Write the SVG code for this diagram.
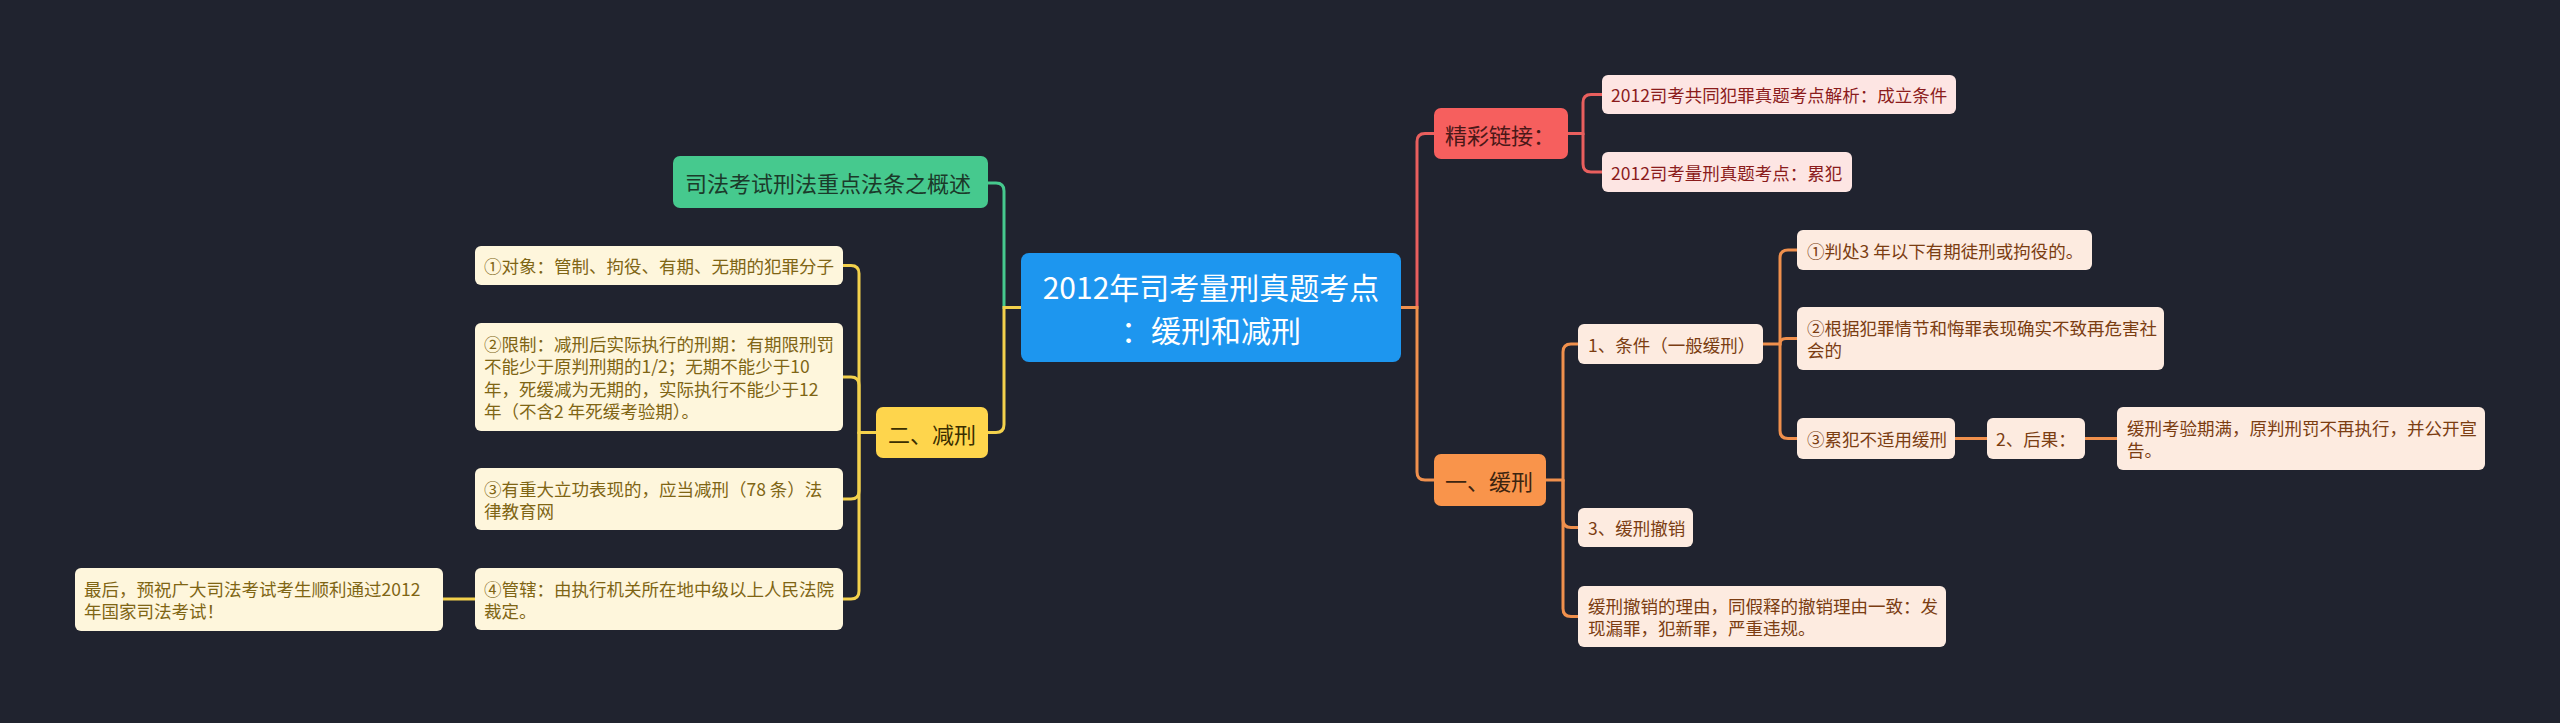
<svg xmlns="http://www.w3.org/2000/svg" width="2560" height="723" viewBox="0 0 2560 723">
<style>
text { font-family: "Noto Sans CJK SC", "Noto Sans", sans-serif; dominant-baseline: central; }
.c0 { font-size: 30px; fill: #ffffff; text-anchor: middle; }
.l1 { font-size: 22px; }
.l2 { font-size: 17.5px; }
.conn path { fill: none; stroke-width: 3; stroke-linecap: round; }
.g { stroke: #46c98e; }
.y { stroke: #f3d14c; }
.r { stroke: #e95f5e; }
.o { stroke: #f0904d; }
.ychild { fill: #fef6dc; }
.ytext { fill: #7f6514; }
.rchild { fill: #fde5e3; }
.rtext { fill: #8b1c1c; }
.ochild { fill: #fdebe0; }
.otext { fill: #7b3d12; }
</style>
<rect x="0" y="0" width="2560" height="723" fill="#20232f"/>
<g id="connectors" class="conn">
  <path class="g" d="M1021,307.5 H1004 V191 Q1004,183 996,183 H988"/>
  <path class="y" d="M1021,307.5 H1004 V424.5 Q1004,432.5 996,432.5 H988"/>
  <path class="y" d="M876,432.5 H859 V273.5 Q859,265.5 851,265.5 H843"/>
  <path class="y" d="M859,432.5 V385 Q859,377 851,377 H843"/>
  <path class="y" d="M859,432.5 V491 Q859,499 851,499 H843"/>
  <path class="y" d="M859,432.5 V591 Q859,599 851,599 H843"/>
  <path class="y" d="M475,599 H443"/>
  <path class="r" d="M1401,307.5 H1417 V141.5 Q1417,133.5 1425,133.5 H1434"/>
  <path class="o" d="M1401,307.5 H1417 V472 Q1417,480 1425,480 H1434"/>
  <path class="r" d="M1568,133.5 H1583 V102.5 Q1583,94.5 1591,94.5 H1602"/>
  <path class="r" d="M1583,133.5 V164 Q1583,172 1591,172 H1602"/>
  <path class="o" d="M1546,480 H1563 V352 Q1563,344 1571,344 H1578"/>
  <path class="o" d="M1563,480 V519.5 Q1563,527.5 1571,527.5 H1578"/>
  <path class="o" d="M1563,480 V608.5 Q1563,616.5 1571,616.5 H1578"/>
  <path class="o" d="M1763,344 H1780 V258 Q1780,250 1788,250 H1797"/>
  <path class="o" d="M1780,344 Q1780,338.5 1786,338.5 H1797"/>
  <path class="o" d="M1780,344 V430.5 Q1780,438.5 1788,438.5 H1797"/>
  <path class="o" d="M1955,438.5 H1987"/>
  <path class="o" d="M2085,438.5 H2117"/>
</g>
<g id="root">
  <rect x="1021" y="253" width="380" height="109" rx="8" fill="#1d96ef"/>
  <text class="c0" x="1211" y="286">2012年司考量刑真题考点</text>
  <text class="c0" x="1211" y="329">：缓刑和减刑</text>
</g>
<g id="n-green">
  <rect x="673" y="156" width="315" height="52" rx="7" fill="#46c98e"/>
  <text class="l1" x="685" y="182" fill="#1b3a2a">司法考试刑法重点法条之概述</text>
</g>
<g id="n-jianxing">
  <rect x="876" y="407" width="112" height="51" rx="7" fill="#fed54c"/>
  <text class="l1" x="888" y="432.5" fill="#3a2e00">二、减刑</text>
</g>
<g id="n-y1">
  <rect class="ychild" x="475" y="246" width="368" height="39" rx="6"/>
  <text class="l2 ytext" x="484" y="265.5">①对象：管制、拘役、有期、无期的犯罪分子</text>
</g>
<g id="n-y2">
  <rect class="ychild" x="475" y="323" width="368" height="108" rx="6"/>
  <text class="l2 ytext" x="484" y="343">②限制：减刑后实际执行的刑期：有期限刑罚</text>
  <text class="l2 ytext" x="484" y="365.5">不能少于原判刑期的1/2；无期不能少于10</text>
  <text class="l2 ytext" x="484" y="388">年，死缓减为无期的，实际执行不能少于12</text>
  <text class="l2 ytext" x="484" y="410.5">年（不含2 年死缓考验期）。</text>
</g>
<g id="n-y3">
  <rect class="ychild" x="475" y="468" width="368" height="62" rx="6"/>
  <text class="l2 ytext" x="484" y="488">③有重大立功表现的，应当减刑（78 条）法</text>
  <text class="l2 ytext" x="484" y="510">律教育网</text>
</g>
<g id="n-y4">
  <rect class="ychild" x="475" y="568" width="368" height="62" rx="6"/>
  <text class="l2 ytext" x="484" y="588">④管辖：由执行机关所在地中级以上人民法院</text>
  <text class="l2 ytext" x="484" y="610">裁定。</text>
</g>
<g id="n-y5">
  <rect class="ychild" x="75" y="568" width="368" height="63" rx="6"/>
  <text class="l2 ytext" x="84" y="588">最后，预祝广大司法考试考生顺利通过2012</text>
  <text class="l2 ytext" x="84" y="610">年国家司法考试！</text>
</g>
<g id="n-links">
  <rect x="1434" y="108" width="134" height="51" rx="7" fill="#f65f5e"/>
  <text class="l1" x="1445" y="133.5" fill="#4a1818">精彩链接：</text>
</g>
<g id="n-r1">
  <rect class="rchild" x="1602" y="75" width="354" height="39" rx="6"/>
  <text class="l2 rtext" x="1611" y="94.5">2012司考共同犯罪真题考点解析：成立条件</text>
</g>
<g id="n-r2">
  <rect class="rchild" x="1602" y="152" width="250" height="40" rx="6"/>
  <text class="l2 rtext" x="1611" y="172">2012司考量刑真题考点：累犯</text>
</g>
<g id="n-huanxing">
  <rect x="1434" y="454" width="112" height="52" rx="7" fill="#f9944b"/>
  <text class="l1" x="1445" y="480" fill="#3d2410">一、缓刑</text>
</g>
<g id="n-o1">
  <rect class="ochild" x="1578" y="324" width="185" height="40" rx="6"/>
  <text class="l2 otext" x="1588" y="344">1、条件（一般缓刑）</text>
</g>
<g id="n-o11">
  <rect class="ochild" x="1797" y="230" width="295" height="40" rx="6"/>
  <text class="l2 otext" x="1807" y="250">①判处3 年以下有期徒刑或拘役的。</text>
</g>
<g id="n-o12">
  <rect class="ochild" x="1797" y="307" width="367" height="63" rx="6"/>
  <text class="l2 otext" x="1807" y="327.5">②根据犯罪情节和悔罪表现确实不致再危害社</text>
  <text class="l2 otext" x="1807" y="349.5">会的</text>
</g>
<g id="n-o13">
  <rect class="ochild" x="1797" y="418" width="158" height="41" rx="6"/>
  <text class="l2 otext" x="1807" y="438.5">③累犯不适用缓刑</text>
</g>
<g id="n-o2">
  <rect class="ochild" x="1987" y="418" width="98" height="41" rx="6"/>
  <text class="l2 otext" x="1996" y="438.5">2、后果：</text>
</g>
<g id="n-o21">
  <rect class="ochild" x="2117" y="407" width="368" height="63" rx="6"/>
  <text class="l2 otext" x="2127" y="427.5">缓刑考验期满，原判刑罚不再执行，并公开宣</text>
  <text class="l2 otext" x="2127" y="449.5">告。</text>
</g>
<g id="n-o3">
  <rect class="ochild" x="1578" y="508" width="115" height="39" rx="6"/>
  <text class="l2 otext" x="1588" y="527.5">3、缓刑撤销</text>
</g>
<g id="n-o4">
  <rect class="ochild" x="1578" y="586" width="368" height="61" rx="6"/>
  <text class="l2 otext" x="1588" y="605.5">缓刑撤销的理由，同假释的撤销理由一致：发</text>
  <text class="l2 otext" x="1588" y="627.5">现漏罪，犯新罪，严重违规。</text>
</g>
</svg>
